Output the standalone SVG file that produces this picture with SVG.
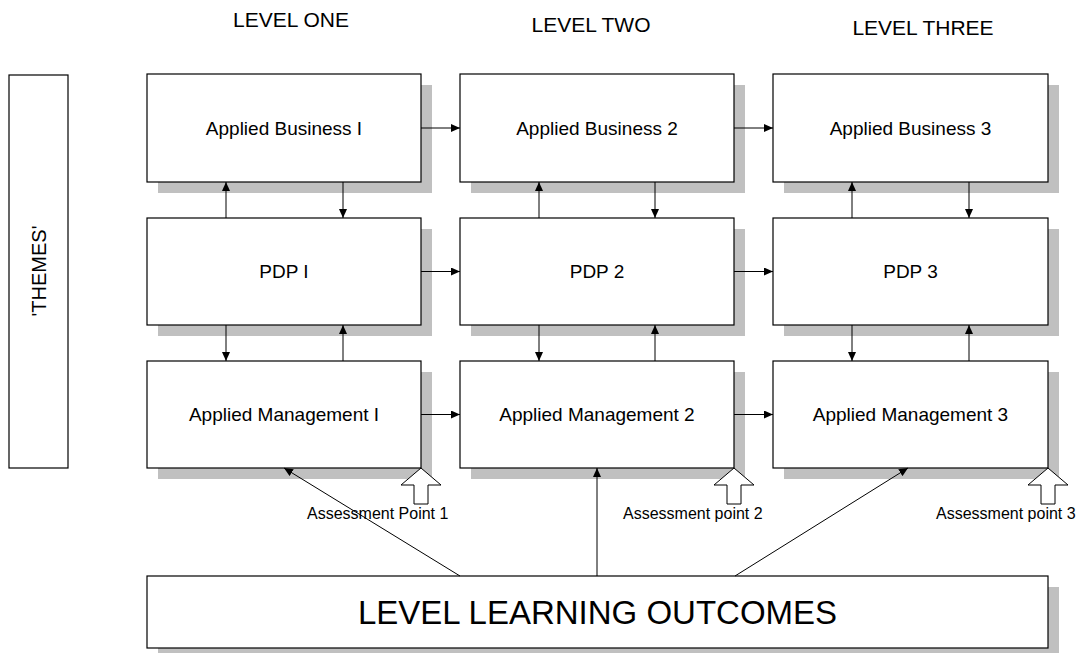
<svg xmlns="http://www.w3.org/2000/svg" width="1092" height="653" viewBox="0 0 1092 653">
<style>
.box{fill:#fff;stroke:#000;stroke-width:1.2}
.sh{fill:#c0c0c0}
.t{font-family:"Liberation Sans",Arial,sans-serif;fill:#000}
.lbl{font-size:19px;text-anchor:middle}
.lvl{font-size:21px;text-anchor:middle}
.ap{font-size:16px}
.c{stroke:#000;stroke-width:1;fill:none}
.blk{fill:#fff;stroke:#000;stroke-width:1}
</style>
<defs>
<marker id="ah" markerUnits="userSpaceOnUse" markerWidth="10" markerHeight="8" refX="9" refY="4" orient="auto">
<path d="M0,0 L9,4 L0,8 z" fill="#000"/>
</marker>
</defs>
<rect width="1092" height="653" fill="#fff"/>
<g id="level-labels">
<text class="t lvl" x="291" y="27">LEVEL ONE</text>
<text class="t lvl" x="591" y="32">LEVEL TWO</text>
<text class="t lvl" x="923" y="35">LEVEL THREE</text>
</g>
<g id="themes">
<rect class="box" x="9" y="75" width="59" height="393"/>
<text class="t" font-size="20" text-anchor="middle" transform="translate(45.5,271) rotate(-90)">'THEMES'</text>
</g>
<g id="ab1"><rect class="sh" x="158" y="85" width="274" height="108"/><rect class="box" x="147" y="74" width="274" height="108"/><text class="t lbl" x="284" y="135">Applied Business I</text></g>
<g id="ab2"><rect class="sh" x="471" y="85" width="274" height="108"/><rect class="box" x="460" y="74" width="274" height="108"/><text class="t lbl" x="597" y="135">Applied Business 2</text></g>
<g id="ab3"><rect class="sh" x="784" y="85" width="275" height="108"/><rect class="box" x="773" y="74" width="275" height="108"/><text class="t lbl" x="910.5" y="135">Applied Business 3</text></g>
<g id="pdp1"><rect class="sh" x="158" y="229" width="274" height="107"/><rect class="box" x="147" y="218" width="274" height="107"/><text class="t lbl" x="284" y="278">PDP I</text></g>
<g id="pdp2"><rect class="sh" x="471" y="229" width="274" height="107"/><rect class="box" x="460" y="218" width="274" height="107"/><text class="t lbl" x="597" y="278">PDP 2</text></g>
<g id="pdp3"><rect class="sh" x="784" y="229" width="275" height="107"/><rect class="box" x="773" y="218" width="275" height="107"/><text class="t lbl" x="910.5" y="278">PDP 3</text></g>
<g id="am1"><rect class="sh" x="158" y="372" width="274" height="107"/><rect class="box" x="147" y="361" width="274" height="107"/><text class="t lbl" x="284" y="421">Applied Management I</text></g>
<g id="am2"><rect class="sh" x="471" y="372" width="274" height="107"/><rect class="box" x="460" y="361" width="274" height="107"/><text class="t lbl" x="597" y="421">Applied Management 2</text></g>
<g id="am3"><rect class="sh" x="784" y="372" width="275" height="107"/><rect class="box" x="773" y="361" width="275" height="107"/><text class="t lbl" x="910.5" y="421">Applied Management 3</text></g>
<g id="llo"><rect class="sh" x="158" y="587" width="901" height="72"/><rect class="box" x="147" y="576" width="901" height="72"/><text class="t" font-size="33" text-anchor="middle" x="597.5" y="624">LEVEL LEARNING OUTCOMES</text></g>
<g id="connectors">
<line class="c" x1="421" y1="128" x2="460" y2="128" marker-end="url(#ah)"/>
<line class="c" x1="734" y1="128" x2="773" y2="128" marker-end="url(#ah)"/>
<line class="c" x1="421" y1="271.5" x2="460" y2="271.5" marker-end="url(#ah)"/>
<line class="c" x1="734" y1="271.5" x2="773" y2="271.5" marker-end="url(#ah)"/>
<line class="c" x1="421" y1="414.5" x2="460" y2="414.5" marker-end="url(#ah)"/>
<line class="c" x1="734" y1="414.5" x2="773" y2="414.5" marker-end="url(#ah)"/>
<line class="c" x1="226" y1="218" x2="226" y2="182" marker-end="url(#ah)"/>
<line class="c" x1="343" y1="182" x2="343" y2="218" marker-end="url(#ah)"/>
<line class="c" x1="539" y1="218" x2="539" y2="182" marker-end="url(#ah)"/>
<line class="c" x1="655" y1="182" x2="655" y2="218" marker-end="url(#ah)"/>
<line class="c" x1="852" y1="218" x2="852" y2="182" marker-end="url(#ah)"/>
<line class="c" x1="969" y1="182" x2="969" y2="218" marker-end="url(#ah)"/>
<line class="c" x1="226" y1="325" x2="226" y2="361" marker-end="url(#ah)"/>
<line class="c" x1="343" y1="361" x2="343" y2="325" marker-end="url(#ah)"/>
<line class="c" x1="539" y1="325" x2="539" y2="361" marker-end="url(#ah)"/>
<line class="c" x1="655" y1="361" x2="655" y2="325" marker-end="url(#ah)"/>
<line class="c" x1="852" y1="325" x2="852" y2="361" marker-end="url(#ah)"/>
<line class="c" x1="969" y1="361" x2="969" y2="325" marker-end="url(#ah)"/>
<line class="c" x1="460" y1="576" x2="284" y2="468" marker-end="url(#ah)"/>
<line class="c" x1="597" y1="576" x2="597" y2="468" marker-end="url(#ah)"/>
<line class="c" x1="735" y1="576" x2="908" y2="468" marker-end="url(#ah)"/>
</g>
<g id="assessment1"><path class="blk" d="M421,468 L441,485 L428,485 L428,504 L414,504 L414,485 L401,485 z"/><text class="t ap" x="307" y="519">Assessment Point 1</text></g>
<g id="assessment2"><path class="blk" d="M734,468 L754,485 L741,485 L741,504 L727,504 L727,485 L714,485 z"/><text class="t ap" x="623" y="519">Assessment point 2</text></g>
<g id="assessment3"><path class="blk" d="M1048,468 L1068,485 L1055,485 L1055,504 L1041,504 L1041,485 L1028,485 z"/><text class="t ap" x="936" y="519">Assessment point 3</text></g>
</svg>
